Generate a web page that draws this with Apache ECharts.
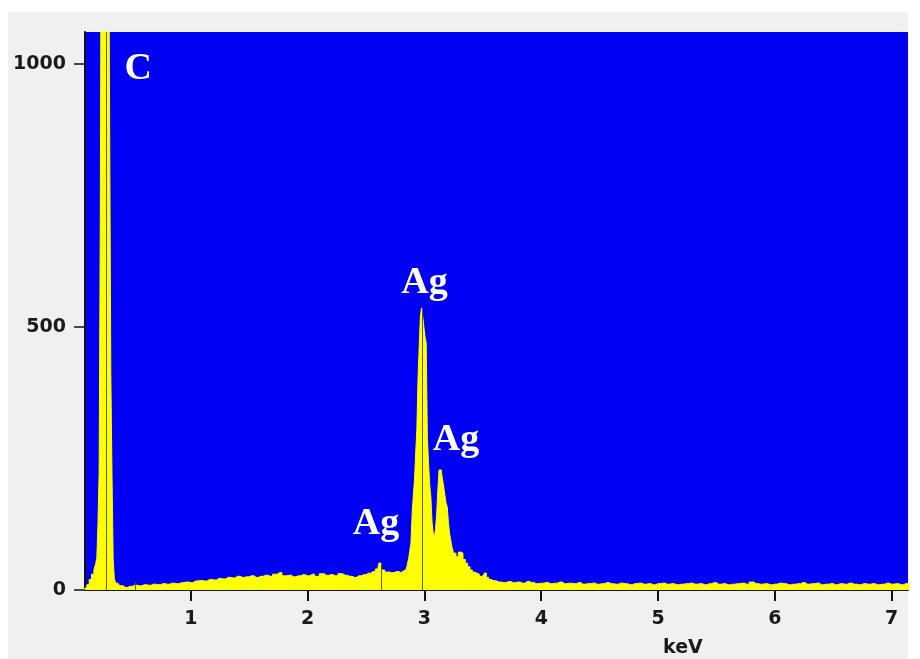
<!DOCTYPE html>
<html>
<head>
<meta charset="utf-8">
<script src="https://cdn.jsdelivr.net/npm/echarts@6/dist/echarts.min.js"></script>
<style>
  html, body { margin: 0; padding: 0; background: #ffffff; }
  #chart { width: 920px; height: 659px; }
</style>
</head>
<body>
<div id="chart"></div>
<script>
// EDS spectrum, energy (keV) and counts
var energy = [
    0.09, 0.10, 0.12, 0.14, 0.16, 0.18, 0.19, 0.20, 0.21, 0.22, 0.23, 0.24, 0.25, 0.26, 0.27, 0.28, 0.29, 0.30, 0.31, 0.32, 0.33, 0.34, 0.35, 0.36, 0.38,
    0.40, 0.44, 0.48, 0.52, 0.56, 0.60, 0.64, 0.68, 0.72, 0.76, 0.80, 0.84, 0.88, 0.92, 0.96, 1.00, 1.04, 1.08, 1.12, 1.16,
    1.20, 1.24, 1.28, 1.32, 1.36, 1.40, 1.44, 1.48, 1.52, 1.56, 1.60, 1.64, 1.68, 1.72, 1.76, 1.80, 1.84, 1.88, 1.92, 1.96,
    2.00, 2.04, 2.08, 2.12, 2.16, 2.20, 2.24, 2.28, 2.32, 2.36, 2.40, 2.44, 2.48, 2.52, 2.56, 2.60, 2.62, 2.64, 2.68, 2.72, 2.76, 2.80,
    2.82, 2.84, 2.86, 2.87, 2.88, 2.89, 2.90, 2.91, 2.92, 2.93, 2.94, 2.95, 2.96, 2.97, 2.98, 2.99, 3.00, 3.01, 3.02, 3.03,
    3.04, 3.05, 3.06, 3.07, 3.08, 3.09, 3.10, 3.11, 3.12, 3.13, 3.14, 3.15, 3.16, 3.17, 3.18, 3.19, 3.20, 3.21, 3.22, 3.23, 3.24,
    3.26, 3.28, 3.30, 3.32, 3.34, 3.36, 3.38, 3.40, 3.42, 3.44, 3.46, 3.48, 3.50, 3.52, 3.54, 3.56, 3.58, 3.60,
    3.64, 3.68, 3.72, 3.76, 3.80, 3.84, 3.88, 3.92, 3.96, 4.00,
    4.04, 4.08, 4.12, 4.16, 4.20, 4.24, 4.28, 4.32, 4.36, 4.40,
    4.44, 4.48, 4.52, 4.56, 4.60, 4.64, 4.68, 4.72, 4.76, 4.80,
    4.84, 4.88, 4.92, 4.96, 5.00, 5.04, 5.08, 5.12, 5.16, 5.20,
    5.24, 5.28, 5.32, 5.36, 5.40, 5.44, 5.48, 5.52, 5.56, 5.60,
    5.64, 5.68, 5.72, 5.76, 5.80, 5.84, 5.88, 5.92, 5.96, 6.00,
    6.04, 6.08, 6.12, 6.16, 6.20, 6.24, 6.28, 6.32, 6.36, 6.40,
    6.44, 6.48, 6.52, 6.56, 6.60, 6.64, 6.68, 6.72, 6.76, 6.80,
    6.84, 6.88, 6.92, 6.96, 7.00, 7.04, 7.08, 7.12, 7.16
];
var counts = [
    3, 5, 10, 20, 30, 38, 50, 60, 125, 222, 707, 1500, 2600, 3200, 3200, 2800, 2000, 1400, 880, 409, 222, 60, 22, 14, 12,
    8, 5, 7, 9, 8, 10, 9, 11, 10, 12, 11, 13, 12, 14, 15, 14, 17, 18, 17, 20,
    19, 22, 21, 24, 23, 26, 24, 25, 27, 24, 26, 28, 26, 30, 33, 27, 28, 25, 27, 29,
    27, 30, 26, 31, 28, 29, 27, 31, 28, 26, 24, 27, 29, 32, 35, 40, 51, 38, 34, 33, 35, 33,
    36, 38, 45, 60, 75, 90, 146, 180, 209, 260, 304, 400, 462, 519, 536, 520, 500, 481, 470, 291,
    241, 200, 177, 130, 108, 101, 115, 146, 190, 228, 228, 224, 210, 196, 180, 165, 158, 130, 108, 95, 82,
    70, 63, 72, 70, 58, 51, 44, 38, 34, 32, 30, 26, 28, 32, 24, 20, 18, 17,
    15, 14, 16, 14, 15, 13, 16, 14, 12, 13,
    14, 12, 13, 15, 12, 13, 12, 14, 11, 12,
    13, 11, 12, 14, 12, 11, 13, 12, 10, 12,
    13, 11, 12, 10, 12, 13, 11, 12, 10, 11,
    12, 13, 11, 12, 10, 12, 14, 11, 12, 10,
    11, 12, 13, 11, 15, 12, 11, 12, 10, 11,
    13, 12, 10, 11, 12, 14, 11, 12, 13, 10,
    11, 12, 10, 12, 11, 13, 11, 10, 12, 11,
    12, 10, 11, 13, 11, 12, 10, 12, 11
];

var xTicks = [1, 2, 3, 4, 5, 6, 7];
var yTicks = [0, 500, 1000];

// KLM marker lines: [keV, height]
var markers = [
    [0.28, 1060],
    [0.525, 14],
    [2.63, 51],
    [2.98, 536]
];

// peak labels: [name, keV, counts]
var peakLabels = [
    ["C", 0.55, 990],
    ["Ag", 3.0, 582],
    ["Ag", 3.27, 285],
    ["Ag", 2.585, 125]
];

var myChart = echarts.init(document.getElementById("chart"));

var spectrum = energy.map(function(e, i) {
    return [e, counts[i]];
});

var labelFont = {
    color: "#1a1a1a",
    fontFamily: "DejaVu Sans",
    fontWeight: "bold",
    fontSize: 19,
    formatter: function(v) {
        return String(v);
    }
};

var option = {
    animation: false,
    backgroundColor: "#ffffff",
    graphic: [{
        type: "rect",
        z: -100,
        shape: { x: 8, y: 12, width: 900, height: 647 },
        style: { fill: "#f0f0f0" }
    }, {
        type: "text",
        left: 663,
        top: 639,
        style: {
            text: "keV",
            fill: "#1a1a1a",
            font: "bold 19px 'DejaVu Sans'"
        }
    }],
    grid: {
        left: 85,
        right: 12,
        top: 32,
        bottom: 69,
        show: true,
        backgroundColor: "#0000f5",
        borderWidth: 0
    },
    xAxis: {
        type: "value",
        min: 0.094,
        max: 7.14,
        splitLine: { show: false },
        axisLine: { show: true, onZero: false, lineStyle: { color: "#111", width: 2 } },
        axisTick: {
            show: true,
            length: 11,
            customValues: xTicks,
            lineStyle: { color: "#111", width: 2 }
        },
        axisLabel: Object.assign({
            margin: 20,
            customValues: xTicks
        }, labelFont)
    },
    yAxis: {
        type: "value",
        min: 0,
        max: 1060,
        splitLine: { show: false },
        axisLine: { show: true, lineStyle: { color: "#111", width: 2 } },
        axisTick: {
            show: true,
            length: 11,
            customValues: yTicks,
            lineStyle: { color: "#111", width: 1.5 }
        },
        axisLabel: Object.assign({
            margin: 19,
            customValues: yTicks
        }, labelFont)
    },
    series: [{
        name: "spectrum",
        type: "line",
        step: "middle",
        symbol: "none",
        clip: true,
        data: spectrum,
        lineStyle: { color: "#ffff00", width: 1 },
        areaStyle: { color: "#ffff00", opacity: 1 },
        markLine: {
            silent: true,
            symbol: ["none", "none"],
            label: { show: false },
            lineStyle: { color: "#5c5c1a", width: 1, type: "solid" },
            data: markers.map(function(m) {
                return [{ coord: [m[0], 0] }, { coord: [m[0], m[1]] }];
            })
        },
        markPoint: {
            silent: true,
            symbol: "circle",
            symbolSize: 0,
            label: {
                show: true,
                position: "inside",
                formatter: "{b}",
                color: "#ffffff",
                fontFamily: "Liberation Serif",
                fontWeight: "bold",
                fontSize: 38
            },
            data: peakLabels.map(function(p) {
                return { name: p[0], coord: [p[1], p[2]] };
            })
        }
    }]
};

myChart.setOption(option);
</script>
</body>
</html>
